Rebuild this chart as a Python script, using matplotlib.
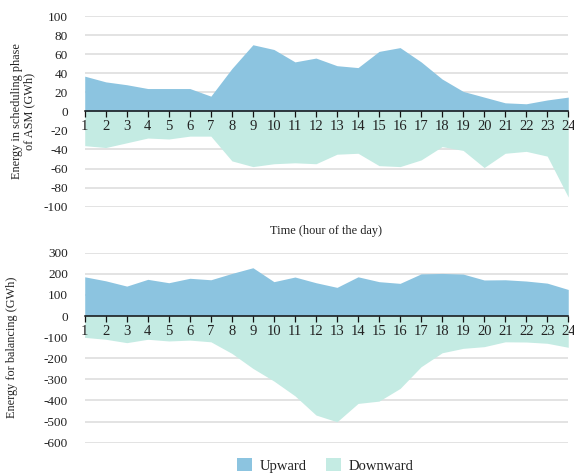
import matplotlib
matplotlib.use("Agg")
import matplotlib.pyplot as plt
from matplotlib.patches import Patch

hours = list(range(1, 25))

# Scheduling phase of ASM (GWh)
asm_upward = [37, 31, 28, 24, 24, 24, 16, 45, 70, 65, 52, 56, 48, 46, 63, 67,
              52, 34, 21, 15, 9, 8, 12, 15]
asm_downward = [-36, -38, -33, -28, -29, -26, -26, -52, -58, -55, -54, -55, -45, -44,
                -57, -58, -51, -37, -41, -59, -44, -42, -47, -90]

# Balancing energy (GWh)
bal_upward = [186, 167, 142, 174, 158, 179, 172, 202, 229, 163, 185, 158, 136, 186,
              163, 155, 200, 202, 199, 171, 172, 166, 156, 126]
bal_downward = [-101, -110, -126, -110, -118, -114, -122, -177, -248, -308, -378, -469,
                -501, -414, -403, -343, -240, -174, -153, -145, -122, -123, -129, -148]

UP_COLOR = "#8cc4e0"
DOWN_COLOR = "#c4ebe3"
TEXT_COLOR = "#222222"

plt.rcParams["font.family"] = ["Liberation Serif", "DejaVu Serif"]

fig = plt.figure(figsize=(5.74, 4.76), dpi=100)
ax1 = fig.add_axes([0.1476, 0.566, 0.8424, 0.400])
ax2 = fig.add_axes([0.1476, 0.070, 0.8424, 0.399])


def style_axis(ax, up, down, ylim, yticks, ylabel):
    ax.set_axisbelow(False)
    ax.fill_between(hours, 0, up, color=UP_COLOR, linewidth=0, zorder=1)
    ax.fill_between(hours, 0, down, color=DOWN_COLOR, linewidth=0, zorder=1)
    ax.set_xlim(1, 24)
    ax.set_ylim(*ylim)
    ax.set_yticks(yticks)
    ax.set_yticklabels([str(v) for v in yticks])
    ax.set_xticks(hours)
    ax.set_xticklabels([str(h) for h in hours])
    for yv in yticks:
        ax.axhline(yv, color="#dedede", linewidth=1.2, zorder=0.5)
    for s in ["top", "right", "left"]:
        ax.spines[s].set_visible(False)
    ax.spines["bottom"].set_position(("data", 0))
    ax.spines["bottom"].set_color("#111111")
    ax.spines["bottom"].set_linewidth(1.1)
    ax.spines["bottom"].set_zorder(3)
    ax.tick_params(axis="x", direction="out", length=4, width=0.9, color="#111111",
                   labelsize=10.5, labelcolor=TEXT_COLOR, pad=2.5)
    ax.tick_params(axis="y", length=0, labelsize=9.5, labelcolor=TEXT_COLOR, pad=12)
    ax.set_ylabel(ylabel, fontsize=8.8, color=TEXT_COLOR, linespacing=1.0)
    ax.patch.set_alpha(0)


style_axis(ax1, asm_upward, asm_downward, (-100, 100), list(range(-100, 101, 20)),
           "Energy in scheduling phase\nof ASM (GWh)")
ax1.yaxis.set_label_coords(-0.103, 0.5)
ax1.set_xlabel("Time (hour of the day)", fontsize=8.8, color=TEXT_COLOR)
ax1.xaxis.set_label_coords(0.5, -0.095)

style_axis(ax2, bal_upward, bal_downward, (-600, 300), list(range(-600, 301, 100)),
           "Energy for balancing (GWh)")
ax2.yaxis.set_label_coords(-0.137, 0.5)

handles = [Patch(facecolor=UP_COLOR, edgecolor="none", label="Upward"),
           Patch(facecolor=DOWN_COLOR, edgecolor="none", label="Downward")]
fig.legend(handles=handles, loc="center", bbox_to_anchor=(0.567, 0.022), ncol=2,
           frameon=False, fontsize=10.5, handlelength=1.0, handleheight=1.0,
           columnspacing=1.3, handletextpad=0.55, labelcolor=TEXT_COLOR)

fig.savefig("out.png", dpi=100)
